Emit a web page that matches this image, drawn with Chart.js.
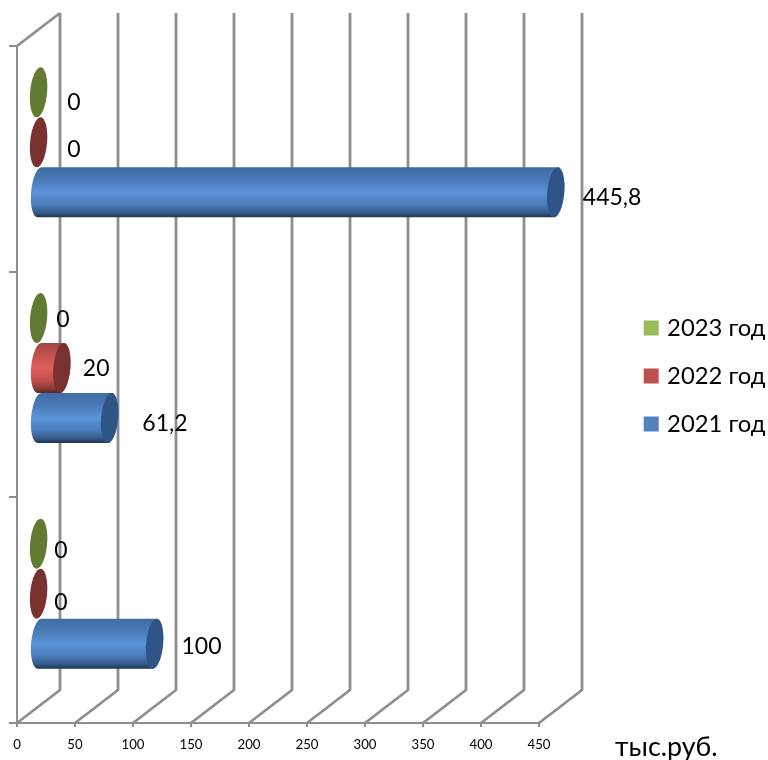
<!DOCTYPE html>
<html><head><meta charset="utf-8">
<style>html,body{margin:0;padding:0;background:#fff}canvas{display:block}</style>
<script src="https://cdn.jsdelivr.net/npm/chart.js@4"></script>
</head><body><canvas id="c" width="768" height="760"></canvas>
<script>
const categories = ['', '', ''];
const seriesNames = ['2023 год', '2022 год', '2021 год'];
const values2023 = [0, 0, 0];
const values2022 = [0, 20, 0];
const values2021 = [445.8, 61.2, 100];
const axisMax = 450;
const axisStep = 50;
const unitLabel = 'тыс.руб.';

const FONT = 'Lato, "Open Sans", sans-serif';
const GRID = '#8e8e8e';
const DEPTH = {x: 43, y: -33};           // floor/wall depth of the 3D box
const BAR = {x: 21.6, y: -16.5, rx: 8.5, tilt: 5 * Math.PI / 180};
const legendColors = ['#9bbb59', '#c0504d', '#4f81bd'];
const capColors = ['#637a33', '#7a3231', '#2f5587'];
const stopAt = [0, .25, .5, .75, .9, 1];
const bodyStops = [
  ['#5f7a33', '#7b9a43', '#9bc455', '#7b9a43', '#5a7230', '#3e5020'],
  ['#a04542', '#c4524f', '#df5f5b', '#bf4f4c', '#8c3b39', '#5c2625'],
  ['#3e6ca3', '#4a7ab8', '#5a94d8', '#4a7cb8', '#355c8c', '#1f3552']
];
// label centre relative to the end of each bar, per series then category
const labelNudge = [
  [[57, -6.5], [46, -15], [44, -9.5]],
  [[57, -9.5], [56, -16], [44, -7.5]],
  [[78, -11.5], [77, -11], [68.5, -13.5]]
];

class CylinderController extends Chart.BarController {
  draw() {
    const ctx = this.chart.ctx, ds = this.index;
    const rx = BAR.rx, th = BAR.tilt;
    this.getMeta().data.forEach(el => {
      const ry = el.height / 2 / Math.cos(th);
      const y = el.y + BAR.y, x0 = el.base + BAR.x, x1 = el.x + BAR.x;
      ctx.save();
      if (x1 - x0 > 0.5) {
        const g = ctx.createLinearGradient(0, y - ry, 0, y + ry);
        const st = bodyStops[ds];
        stopAt.forEach((p, i) => g.addColorStop(p, st[i]));
        ctx.fillStyle = g;
        ctx.beginPath();
        ctx.ellipse(x0, y, rx, ry, th, Math.PI / 2, 3 * Math.PI / 2);
        ctx.ellipse(x1, y, rx, ry, th, -Math.PI / 2, Math.PI / 2);
        ctx.closePath();
        ctx.fill();
      }
      ctx.fillStyle = capColors[ds];
      ctx.beginPath();
      ctx.ellipse(x1, y, rx, ry, th, 0, 2 * Math.PI);
      ctx.fill();
      ctx.restore();
    });
  }
}
CylinderController.id = 'cylinder';
CylinderController.defaults = Chart.BarController.defaults;
CylinderController.overrides = Chart.BarController.overrides;
Chart.register(CylinderController);

const walls = {
  id: 'walls',
  beforeDatasetsDraw(chart) {
    const {ctx, chartArea: a, scales: {x}} = chart;
    ctx.save();
    ctx.strokeStyle = GRID; ctx.lineWidth = 2.8; ctx.lineJoin = 'round';
    x.ticks.forEach((t, i) => {
      const px = x.getPixelForTick(i);
      ctx.beginPath();
      ctx.moveTo(px, a.bottom);
      ctx.lineTo(px + DEPTH.x, a.bottom + DEPTH.y);
      ctx.lineTo(px + DEPTH.x, a.top + DEPTH.y);
      ctx.stroke();
    });
    ctx.beginPath();
    ctx.moveTo(a.left, a.top);
    ctx.lineTo(a.left + DEPTH.x, a.top + DEPTH.y);
    ctx.stroke();
    ctx.restore();
  }
};
const labels = {
  id: 'valueLabels',
  afterDatasetsDraw(chart) {
    const ctx = chart.ctx;
    ctx.save();
    ctx.fillStyle = '#000';
    ctx.font = '23px ' + FONT;
    ctx.textAlign = 'center'; ctx.textBaseline = 'middle';
    chart.data.datasets.forEach((d, s) => {
      chart.getDatasetMeta(s).data.forEach((el, i) => {
        const [dx, dy] = labelNudge[s][i];
        ctx.fillText(String(d.data[i]).replace('.', ','), el.x + dx, el.y + dy);
      });
    });
    ctx.textAlign = 'left';
    ctx.font = '26.8px ' + FONT;
    ctx.fillText(unitLabel, 615, 747.5);
    ctx.restore();
  }
};
const legendPlace = {
  id: 'legendPlace',
  afterLayout(chart) {
    const l = chart.legend;
    const w = l.width, h = l.height;
    l.left = 623; l.right = 623 + w; l.top = 292; l.bottom = 292 + h;
    if (l.adjustHitBoxes) l.adjustHitBoxes();
  }
};

new Chart(document.getElementById('c'), {
  type: 'cylinder',
  data: {
    labels: categories,
    datasets: [
      {label: seriesNames[0], data: values2023, backgroundColor: legendColors[0]},
      {label: seriesNames[1], data: values2022, backgroundColor: legendColors[1]},
      {label: seriesNames[2], data: values2021, backgroundColor: legendColors[2]}
    ].map(d => Object.assign(d, {clip: false, barPercentage: 1, categoryPercentage: 150 / 225.67}))
  },
  options: {
    indexAxis: 'y',
    responsive: false,
    animation: false,
    layout: {padding: {left: 17, top: 46, right: 229, bottom: 0}},
    scales: {
      x: {
        type: 'linear', min: 0, max: axisMax, position: 'bottom',
        afterFit(s) { s.height = 37; },
        grid: {drawOnChartArea: false, drawTicks: true, tickLength: 4, color: GRID, lineWidth: 2},
        border: {color: GRID, width: 2},
        ticks: {stepSize: axisStep, color: '#000', padding: 10, maxRotation: 0, autoSkip: false,
                font: {family: FONT, size: 13.2}}
      },
      y: {
        type: 'category', offset: true, position: 'left',
        afterFit(s) { s.width = 0; },
        grid: {offset: true, drawOnChartArea: false, drawTicks: true, tickLength: 8, color: GRID, lineWidth: 2},
        border: {color: GRID, width: 2},
        ticks: {display: false}
      }
    },
    plugins: {
      tooltip: {enabled: false},
      title: {display: false},
      legend: {
        position: 'chartArea',
        align: 'start',
        labels: {
          boxWidth: 8, boxHeight: 8, padding: 24.2,
          color: '#000',
          font: {family: FONT, size: 23.8},
          generateLabels(chart) {
            return chart.data.datasets.map((d, i) => ({
              text: d.label, fillStyle: legendColors[i], strokeStyle: legendColors[i],
              lineWidth: 7, datasetIndex: i, hidden: false
            }));
          }
        }
      }
    }
  },
  plugins: [walls, labels, legendPlace]
});
</script></body></html>
